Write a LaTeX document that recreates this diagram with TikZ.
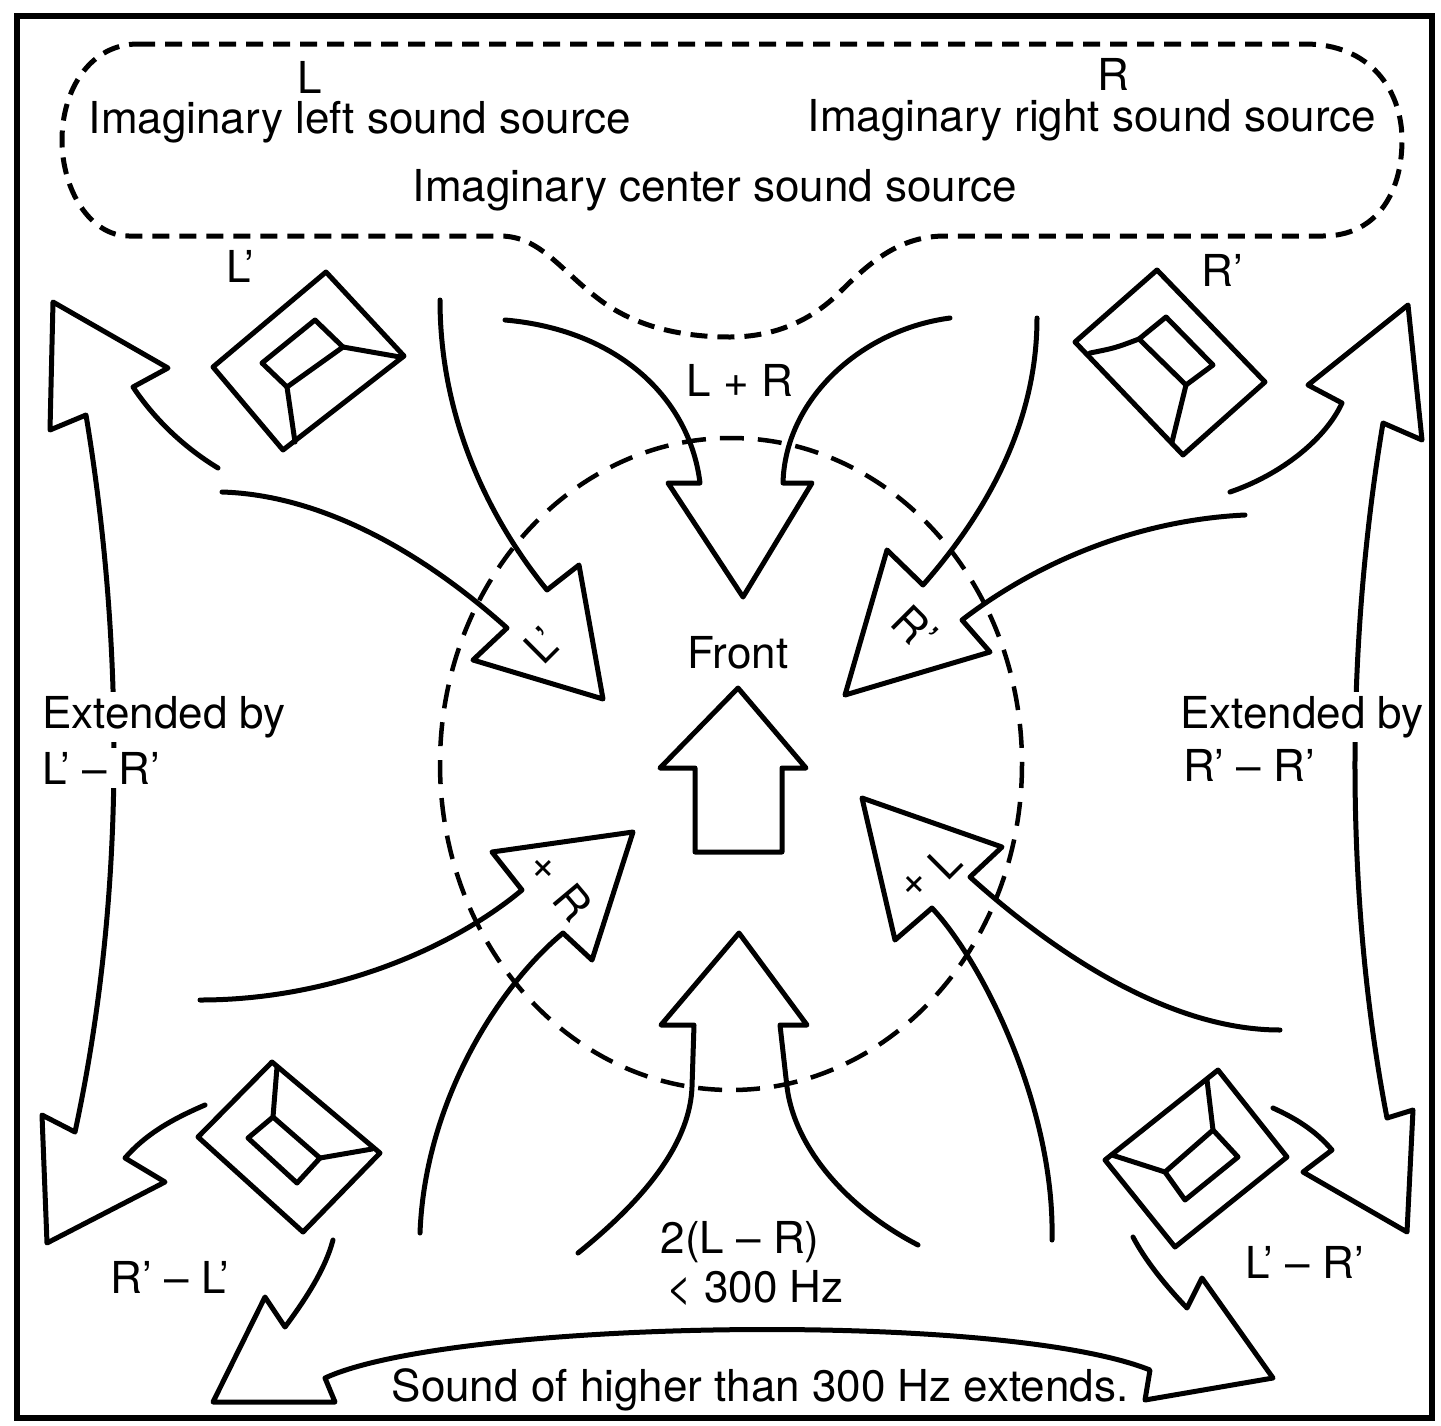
\documentclass[tikz,border=0pt]{standalone}
\usepackage{fontspec}
\newfontfamily\labelfont{TeX Gyre Heros}
\begin{document}
\begin{tikzpicture}[x=1pt,y=-1pt,
  ln/.style={line width=5pt,line join=round,line cap=round},
  dsh/.style={line width=5pt,dash pattern=on 17pt off 10pt},
  dshc/.style={line width=4.5pt,dash pattern=on 24pt off 14pt},
  lbl/.style={font=\labelfont\fontsize{44}{48}\selectfont,inner sep=1pt},
  gap/.style={lbl,fill=white,inner sep=4pt}]
\useasboundingbox (0,0) rectangle (1441,1425);
% frame
\draw[line width=5.5pt] (17,16) rectangle (1432,1418);

% imaginary sound source region
\draw[dsh] (138,44) -- (1305,44) .. controls (1370,44) and (1402,90) .. (1402,140)
  .. controls (1402,195) and (1375,236) .. (1323,236) -- (945,236)
  .. controls (900,236) and (870,262) .. (840,292)
  .. controls (812,320) and (775,337) .. (730,337)
  .. controls (690,337) and (640,330) .. (600,300)
  .. controls (560,270) and (540,236) .. (500,236) -- (129,236)
  .. controls (90,236) and (62,190) .. (62,140)
  .. controls (62,90) and (90,44) .. (138,44) -- cycle;
\node[lbl] (L) at (310,77) {L};
\node[lbl] (R) at (1113,74) {R};
\node[lbl] (il) at (360,122) {Imaginary left sound source};
\node[lbl] (ir) at (1092,120) {Imaginary right sound source};
\node[lbl] (ic) at (715,190) {Imaginary center sound source};

% listening area
\draw[dshc] (731,764) ellipse [x radius=291, y radius=326];

% speakers
\node[lbl] (Lp) at (240,266) {L’};
\node[lbl] (Rp) at (1222,270) {R’};
% front left
\draw[ln] (326,272) -- (404,356) -- (283,450) -- (213,367) -- cycle;
\draw[ln] (315,320) -- (343,347) -- (287,387) -- (262,363) -- cycle;
\draw[ln] (343,347) -- (400,357);
\draw[ln] (287,387) -- (295,442);
% front right
\draw[ln] (1157,270) -- (1265,382) -- (1183,455) -- (1075,342) -- cycle;
\draw[ln] (1166,317) -- (1213,365) -- (1186,385) -- (1139,339) -- cycle;
\draw[ln] (1139,339) .. controls (1115,348) .. (1090,353);
\draw[ln] (1186,385) -- (1172,442);
% rear left
\draw[ln] (272,1062) -- (380,1153) -- (303,1232) -- (198,1137) -- cycle;
\draw[ln] (273,1117) -- (320,1158) -- (297,1183) -- (248,1138) -- cycle;
\draw[ln] (273,1117) -- (277,1067);
\draw[ln] (320,1158) -- (372,1149);
% rear right
\draw[ln] (1218,1070) -- (1287,1157) -- (1175,1247) -- (1105,1160) -- cycle;
\draw[ln] (1213,1130) -- (1238,1157) -- (1185,1200) -- (1165,1172) -- cycle;
\draw[ln] (1213,1130) -- (1207,1080);
\draw[ln] (1165,1172) -- (1112,1155);

% left extension arrow
\draw[ln] (218,468) .. controls (185,448) and (155,420) .. (133,387) -- (168,368)
  -- (53,302) -- (50,430) -- (86,415) .. controls (125,650) and (125,900) .. (75,1132)
  -- (42,1115) -- (47,1243) -- (165,1182) -- (125,1158)
  .. controls (145,1135) and (170,1120) .. (205,1105);
% right extension arrow
\draw[ln] (1230,492) .. controls (1280,475) and (1325,440) .. (1342,403) -- (1308,385)
  -- (1408,305) -- (1422,440) -- (1383,423) .. controls (1345,650) and (1345,900) .. (1387,1118)
  -- (1413,1110) -- (1407,1232) -- (1303,1172) -- (1332,1150)
  .. controls (1315,1130) and (1295,1118) .. (1273,1108);
% rear extension arrow
\draw[ln] (333,1240) .. controls (325,1270) and (305,1300) .. (285,1327) -- (265,1297)
  -- (213,1402) -- (335,1402) -- (325,1378)
  .. controls (450,1320) and (1000,1310) .. (1150,1370)
  -- (1145,1400) -- (1273,1378) -- (1202,1278) -- (1187,1308)
  .. controls (1165,1285) and (1145,1260) .. (1133,1237);

% L+R arrow
\draw[ln] (505,320) .. controls (620,330) and (690,400) .. (700,483) -- (668,483)
  -- (743,597) -- (812,483) -- (783,483) .. controls (785,400) and (860,330) .. (950,318);
\node[lbl] (LR) at (740,380) {L + R};
% L' arrow
\draw[ln] (440,300) .. controls (440,420) and (490,520) .. (547,590) -- (579,565)
  -- (603,699) -- (473,660) -- (507,628) .. controls (420,550) and (320,495) .. (222,492);
\node[lbl,rotate=45] (Lin) at (542,645) {L’};
% R' arrow
\draw[ln] (1037,318) .. controls (1037,430) and (980,520) .. (923,585) -- (887,550)
  -- (845,695) -- (990,652) -- (962,620) .. controls (1040,560) and (1140,520) .. (1245,515);
\node[lbl,rotate=-45] (Rin) at (915,628) {R’};
% xR arrow
\draw[ln] (200,1000) .. controls (330,1000) and (450,950) .. (522,890) -- (492,852)
  -- (633,832) -- (592,960) -- (563,933) .. controls (500,985) and (425,1100) .. (420,1233);
\node[lbl] (xa) at (543,870) {×};
\node[lbl,rotate=-50] (Rx) at (573,902) {R};
% xL arrow
\draw[ln] (1280,1030) .. controls (1160,1030) and (1040,940) .. (970,877) -- (1002,847)
  -- (862,798) -- (895,940) -- (932,908) .. controls (985,965) and (1055,1110) .. (1052,1240);
\node[lbl] (xb) at (914,886) {×};
\node[lbl,rotate=45] (Lx) at (945,862) {L};

% front arrow
\node[lbl] (front) at (738,653) {Front};
\draw[ln] (738,688) -- (806,768) -- (782,768) -- (782,852) -- (695,852) -- (695,768) -- (660,768) -- cycle;

% 2(L-R) arrow
\draw[ln] (578,1253) .. controls (650,1195) and (690,1140) .. (692,1087) -- (694,1025)
  -- (661,1025) -- (739,933) -- (807,1025) -- (780,1025) -- (787,1087)
  .. controls (795,1150) and (850,1210) .. (918,1245);
\node[lbl] (diff) at (740,1242) {2(L – R)};
\node[lbl] (hz) at (755,1288) {< 300 Hz};

% side and rear labels
\node[gap,anchor=west] (el) at (38,717) {Extended by};
\node[gap,anchor=west] (el2) at (38,768) {L’ – R’};
\node[gap,anchor=west] (er) at (1176,717) {Extended by};
\node[gap,anchor=west] (er2) at (1179,765) {R’ – R’};
\node[lbl] (rl) at (170,1277) {R’ – L’};
\node[lbl] (lr) at (1305,1262) {L’ – R’};
\node[lbl] (hi) at (760,1390) {Sound of higher than 300 Hz extends.};
\end{tikzpicture}
\end{document}
